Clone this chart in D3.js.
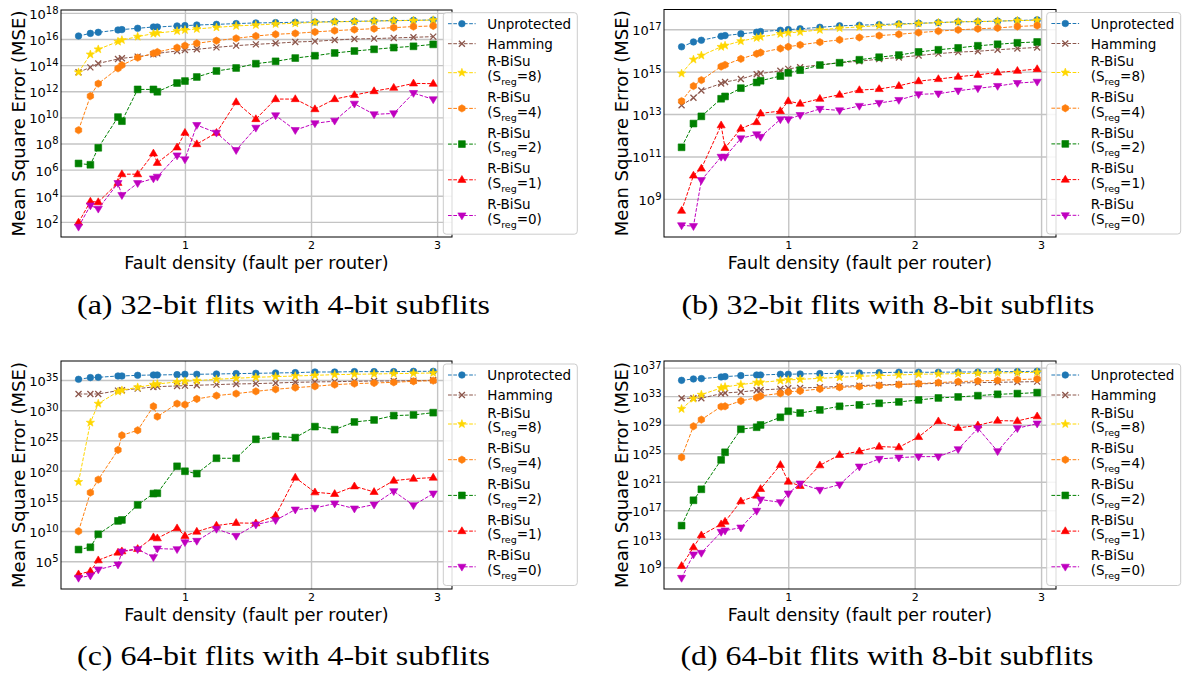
<!DOCTYPE html>
<html><head><meta charset="utf-8">
<script src="https://cdn.jsdelivr.net/npm/d3@7"></script>
<style>body{margin:0;background:#fff}svg{display:block}</style>
</head><body>
<svg id="chart" width="1182" height="677"></svg>
<script>
// Fault density (fault per router) — x values of every series
const faultDensity = [0.156,0.25,0.3125,0.469,0.5,0.625,0.75,0.781,0.9375,1.0,1.094,1.25,1.406,1.5625,1.719,1.875,2.031,2.1875,2.344,2.5,2.656,2.8125,2.969];
const xTickValues = [1,2,3];

const seriesNames = ["Unprotected","Hamming","R-BiSu|8","R-BiSu|4","R-BiSu|2","R-BiSu|1","R-BiSu|0"];
const seriesColors = ["#1f77b4","#8c564b","#ffd700","#ff7f0e","#008000","#ff0000","#bf00bf"];
const seriesMarkers = ["circle","x","star","hexagon","square","triUp","triDown"];

// MSE values given as log10(MSE)
// (a) 32-bit flits with 4-bit subflits
const aUnprotected = [16.23,16.43,16.51,16.69,16.72,16.82,16.92,16.92,17.00,17.02,17.07,17.12,17.18,17.23,17.25,17.28,17.30,17.33,17.35,17.38,17.41,17.43,17.46];
const aHamming     = [13.45,13.83,14.13,14.47,14.52,14.65,14.82,14.90,15.08,15.16,15.21,15.36,15.49,15.59,15.67,15.77,15.82,15.92,16.00,16.03,16.08,16.13,16.18];
const aSreg8       = [13.45,14.82,15.21,15.80,15.92,16.18,16.41,16.46,16.61,16.69,16.77,16.89,17.00,17.07,17.15,17.20,17.28,17.31,17.34,17.37,17.40,17.42,17.45];
const aSreg4       = [9.02,11.63,12.58,13.75,14.00,14.57,14.90,15.00,15.34,15.49,15.67,15.87,16.05,16.23,16.36,16.43,16.54,16.64,16.72,16.79,16.87,16.95,17.00];
const aSreg2       = [6.47,6.37,7.67,10.02,9.71,12.14,12.14,11.96,12.63,12.78,13.09,13.55,13.78,14.11,14.29,14.54,14.72,14.93,15.08,15.21,15.34,15.44,15.59];
const aSreg1       = [1.95,3.56,3.51,4.99,5.65,5.65,7.24,6.52,7.70,8.82,7.95,8.82,11.17,9.87,11.40,11.40,10.63,11.40,11.71,12.01,12.27,12.60,12.58];
const aSreg0       = [1.62,3.25,3.00,4.96,4.04,4.96,5.32,5.45,7.08,6.78,9.41,8.82,7.49,9.20,10.15,9.02,9.54,9.74,11.04,10.23,10.30,11.86,11.38];
// (b) 32-bit flits with 8-bit subflits
const bUnprotected = [16.17,16.40,16.48,16.67,16.70,16.78,16.86,16.89,16.95,16.98,17.02,17.09,17.16,17.19,17.22,17.25,17.28,17.31,17.35,17.36,17.38,17.41,17.44];
const bHamming     = [13.41,13.77,14.11,14.44,14.51,14.65,14.88,14.91,15.04,15.13,15.21,15.32,15.42,15.49,15.59,15.67,15.76,15.85,15.92,15.96,16.03,16.09,16.14];
const bSreg8       = [14.91,15.57,15.76,16.17,16.23,16.44,16.59,16.64,16.78,16.83,16.87,16.97,17.05,17.11,17.17,17.22,17.27,17.31,17.35,17.36,17.38,17.41,17.42];
const bSreg4       = [13.61,14.32,14.60,15.24,15.32,15.60,15.84,15.90,16.09,16.17,16.26,16.39,16.50,16.61,16.70,16.76,16.84,16.91,16.97,17.02,17.06,17.13,17.17];
const bSreg2       = [11.43,12.55,12.89,13.72,13.83,14.22,14.49,14.57,14.79,14.94,15.07,15.31,15.42,15.56,15.68,15.78,15.93,16.03,16.12,16.22,16.29,16.36,16.40];
const bSreg1       = [8.44,10.10,10.43,12.47,11.40,12.31,12.62,13.03,13.14,13.61,13.49,13.72,13.91,14.13,14.18,14.33,14.55,14.65,14.76,14.85,14.96,15.04,15.12];
const bSreg0       = [7.75,7.71,9.88,10.98,10.98,11.85,12.04,11.92,12.75,12.75,12.95,13.24,13.17,13.38,13.52,13.66,13.93,13.96,14.10,14.21,14.32,14.46,14.52];
// (c) 64-bit flits with 4-bit subflits
const cUnprotected = [35.11,35.39,35.44,35.66,35.66,35.77,35.83,35.83,35.88,35.94,35.94,35.99,36.05,36.10,36.16,36.21,36.32,36.32,36.38,36.38,36.38,36.43,36.43];
const cHamming     = [32.68,32.68,32.68,33.23,33.29,33.57,33.84,33.90,34.01,34.06,34.12,34.23,34.34,34.39,34.50,34.61,34.67,34.72,34.78,34.83,34.83,34.89,34.94];
const cSreg8       = [18.12,27.94,31.08,33.07,33.29,33.79,34.23,34.34,34.67,34.78,34.89,35.11,35.28,35.44,35.55,35.66,35.77,35.88,35.94,35.99,36.05,36.10,36.16];
const cSreg4       = [9.96,16.36,18.51,23.42,25.84,26.67,30.64,28.93,31.08,30.92,31.86,32.41,32.74,33.12,33.46,33.73,33.95,34.23,34.39,34.50,34.61,34.78,34.89];
const cSreg2       = [6.93,7.31,9.46,11.67,11.83,14.32,16.19,16.25,20.71,19.89,19.50,22.04,22.04,25.18,25.68,25.46,27.28,26.78,28.05,28.38,29.10,29.21,29.59];
const cSreg1       = [2.84,3.34,5.16,6.43,6.65,7.04,8.97,8.80,10.46,9.19,9.90,10.90,11.34,11.28,12.55,18.84,16.41,16.14,17.40,16.47,18.34,18.67,18.84];
const cSreg0       = [2.24,2.62,3.62,4.44,6.59,6.98,5.66,7.09,6.98,8.14,8.36,10.34,9.19,11.06,11.78,13.54,13.82,14.54,13.71,14.37,16.58,14.26,16.19];
// (d) 64-bit flits with 8-bit subflits
const dUnprotected = [35.22,35.41,35.46,35.69,35.74,35.88,35.97,35.97,36.07,36.07,36.11,36.16,36.21,36.25,36.30,36.35,36.35,36.35,36.39,36.39,36.44,36.44,36.49];
const dHamming     = [32.70,32.70,32.70,33.36,33.45,33.59,33.82,33.87,34.01,34.10,34.15,34.24,34.38,34.48,34.57,34.66,34.71,34.80,34.85,34.90,34.94,34.99,35.04];
const dSreg8       = [31.21,32.65,33.21,34.15,34.29,34.62,34.90,34.94,35.18,35.27,35.36,35.50,35.64,35.79,35.88,35.97,36.07,36.11,36.16,36.21,36.25,36.30,36.35];
const dSreg4       = [24.43,28.78,29.71,31.53,31.58,32.33,32.79,33.03,33.40,33.59,33.73,34.01,34.24,34.34,34.48,34.62,34.76,34.90,35.04,35.13,35.22,35.32,35.41];
const dSreg2       = [14.85,18.40,19.94,24.06,25.13,28.36,28.64,28.96,30.04,30.88,30.64,31.07,31.58,31.77,32.00,32.19,32.47,32.75,32.89,33.07,33.26,33.36,33.50];
const dSreg1       = [9.20,11.81,13.50,15.04,15.41,18.26,19.06,19.99,23.36,21.02,20.41,23.31,24.76,25.27,25.93,25.83,27.28,29.48,28.54,28.92,29.57,29.52,30.18];
const dSreg0       = [7.51,10.79,11.02,13.96,14.15,14.57,16.91,18.50,18.12,19.34,20.74,19.85,20.60,23.12,24.20,24.38,24.52,24.52,25.55,28.50,25.27,28.50,29.15];

// y tick exponents
const aTicks = [2,4,6,8,10,12,14,16,18];
const bTicks = [9,11,13,15,17];
const cTicks = [5,10,15,20,25,30,35];
const dTicks = [9,13,17,21,25,29,33,37];

const captions = ["(a) 32-bit flits with 4-bit subflits","(b) 32-bit flits with 8-bit subflits",
                  "(c) 64-bit flits with 4-bit subflits","(d) 64-bit flits with 8-bit subflits"];

const panels = [
  {x0:61,  x1:452,  y0:10,  y1:237, ylog:[0.84,18.22], ticks:aTicks, series:[aUnprotected,aHamming,aSreg8,aSreg4,aSreg2,aSreg1,aSreg0], cap:captions[0], capX:283.5, capY:314, lx:443.3, ly:12.7},
  {x0:664, x1:1056, y0:9.5, y1:237, ylog:[7.20,17.93], ticks:bTicks, series:[bUnprotected,bHamming,bSreg8,bSreg4,bSreg2,bSreg1,bSreg0], cap:captions[1], capX:888,   capY:314, lx:1046.7, ly:12.5},
  {x0:61,  x1:452,  y0:361, y1:589, ylog:[0.40,38.14], ticks:cTicks, series:[cUnprotected,cHamming,cSreg8,cSreg4,cSreg2,cSreg1,cSreg0], cap:captions[2], capX:283.5, capY:665, lx:443.3, ly:364},
  {x0:664, x1:1056, y0:361, y1:589, ylog:[5.96,37.93], ticks:dTicks, series:[dUnprotected,dHamming,dSreg8,dSreg4,dSreg2,dSreg1,dSreg0], cap:captions[3], capX:887,   capY:665, lx:1046.7, ly:364}
];

const svg = d3.select("#chart");
const FONT = "DejaVu Sans, sans-serif";

function markerPath(type){
  switch(type){
    case "circle": { const r=3.3; return `M${r},0A${r},${r},0,1,1,${-r},0A${r},${r},0,1,1,${r},0Z`; }
    case "square": { const h=3.4; return `M${-h},${-h}H${h}V${h}H${-h}Z`; }
    case "triUp":  { const r=4.3; return `M0,${-r}L${r*0.95},${r*0.6}L${-r*0.95},${r*0.6}Z`; }
    case "triDown":{ const r=4.3; return `M0,${r}L${r*0.95},${-r*0.6}L${-r*0.95},${-r*0.6}Z`; }
    case "hexagon":{ const r=3.7; let p=""; for(let k=0;k<6;k++){const a=Math.PI/2+k*Math.PI/3; p+=(k?"L":"M")+(r*Math.cos(a)).toFixed(2)+","+(r*Math.sin(a)).toFixed(2);} return p+"Z"; }
    case "star":   { const R=4.4, r=1.8; let p=""; for(let k=0;k<10;k++){const a=-Math.PI/2+k*Math.PI/5; const rr=k%2?r:R; p+=(k?"L":"M")+(rr*Math.cos(a)).toFixed(2)+","+(rr*Math.sin(a)).toFixed(2);} return p+"Z"; }
    case "x":      { const h=3; return `M${-h},${-h}L${h},${h}M${-h},${h}L${h},${-h}`; }
  }
}
function drawMarker(g,type,cx,cy,color){
  const p = g.append("path").attr("d",markerPath(type)).attr("transform",`translate(${cx},${cy})`);
  if(type==="x") p.attr("fill","none").attr("stroke",color).attr("stroke-width",1.3);
  else p.attr("fill",color).attr("stroke",color).attr("stroke-width",0.6);
}

panels.forEach(p=>{
  const g = svg.append("g");
  const x = d3.scaleLinear().domain([0.017,3.118]).range([p.x0,p.x1]);
  const y = d3.scaleLog().domain([10**p.ylog[0],10**p.ylog[1]]).range([p.y1,p.y0]);
  const W = p.x1-p.x0, H = p.y1-p.y0;

  // grid
  g.append("g").attr("transform",`translate(0,${p.y1})`)
    .call(d3.axisBottom(x).tickValues(xTickValues).tickSize(-H).tickFormat(""))
    .call(s=>{s.select(".domain").remove(); s.selectAll("line").attr("stroke","#c4c4c4").attr("stroke-width",1.4);});
  g.append("g").attr("transform",`translate(${p.x0},0)`)
    .call(d3.axisLeft(y).tickValues(p.ticks.map(e=>10**e)).tickSize(-W).tickFormat(""))
    .call(s=>{s.select(".domain").remove(); s.selectAll("line").attr("stroke","#c4c4c4").attr("stroke-width",1.4);});

  // series
  const line = d3.line().x(d=>x(d[0])).y(d=>y(10**d[1]));
  p.series.forEach((vals,i)=>{
    const pts = faultDensity.map((xv,j)=>[xv,vals[j]]);
    g.append("path").attr("d",line(pts)).attr("fill","none").attr("stroke",seriesColors[i])
      .attr("stroke-width",1).attr("stroke-dasharray","3.7,1.6");
    pts.forEach(d=>drawMarker(g,seriesMarkers[i],x(d[0]),y(10**d[1]),seriesColors[i]));
  });

  // frame
  g.append("rect").attr("x",p.x0).attr("y",p.y0).attr("width",W).attr("height",H)
    .attr("fill","none").attr("stroke","#000").attr("stroke-width",1);

  // x tick labels
  g.append("g").attr("transform",`translate(0,${p.y1})`)
    .call(d3.axisBottom(x).tickValues(xTickValues).tickSize(0).tickPadding(4.5).tickFormat(d3.format("d")))
    .call(s=>{s.select(".domain").remove(); s.attr("font-family",FONT).attr("font-size",11);
      s.selectAll("text").attr("fill","#000");});

  // y tick labels (10^n)
  g.append("g").attr("transform",`translate(${p.x0},0)`)
    .call(d3.axisLeft(y).tickValues(p.ticks.map(e=>10**e)).tickSize(0).tickPadding(2.5).tickFormat(()=>""))
    .call(s=>{s.select(".domain").remove(); s.attr("font-family",FONT).attr("font-size",13);
      s.selectAll(".tick text").each(function(d){
        const t = d3.select(this).attr("fill","#000").attr("dy","0.42em");
        t.append("tspan").text("10");
        t.append("tspan").attr("font-size",10).attr("dy","-0.5em").text(String(Math.round(Math.log10(d))));
      });});

  // axis titles
  g.append("text").attr("x",(p.x0+p.x1)/2).attr("y",p.y1+32).attr("text-anchor","middle")
    .attr("font-family",FONT).attr("font-size",17.5).text("Fault density (fault per router)");
  g.append("text").attr("transform",`translate(${p.x0-36},${(p.y0+p.y1)/2}) rotate(-90)`).attr("text-anchor","middle")
    .attr("font-family",FONT).attr("font-size",18).text("Mean Square Error (MSE)");

  // legend
  const L = g.append("g").attr("transform",`translate(${p.lx},${p.ly})`);
  L.append("rect").attr("width",134).attr("height",221.5).attr("rx",3)
    .attr("fill","#fff").attr("fill-opacity",0.85).attr("stroke","#cccccc").attr("stroke-width",1);
  seriesNames.forEach((name,i)=>{
    let cy, lines;
    if(i<2){ cy = 11 + 20*i; lines = [[name, cy]]; }
    else { const k=i-2; cy = 60+35.7*k; lines = [["R-BiSu",48.6+35.7*k],["sub",63.3+35.7*k]]; }
    L.append("line").attr("x1",4.7).attr("x2",32.4).attr("y1",cy).attr("y2",cy)
      .attr("stroke",seriesColors[i]).attr("stroke-width",1).attr("stroke-dasharray","3.7,1.6");
    drawMarker(L,seriesMarkers[i],18.6,cy,seriesColors[i]);
    lines.forEach(([txt,ly])=>{
      const t = L.append("text").attr("x",44).attr("y",ly+5).attr("font-family",FONT).attr("font-size",13.5).attr("fill","#000");
      if(txt==="sub"){
        const v = name.split("|")[1];
        t.append("tspan").text("(S");
        t.append("tspan").attr("font-size",9.5).attr("dy",4).text("reg");
        t.append("tspan").attr("dy",-4).text("="+v+")");
      } else t.text(txt);
    });
  });

  // caption
  svg.append("text").attr("x",p.capX).attr("y",p.capY).attr("text-anchor","middle")
    .attr("font-family","Liberation Serif, serif").attr("font-size",27.5)
    .attr("textLength",413).attr("lengthAdjust","spacingAndGlyphs").attr("fill","#000").text(p.cap);
});
</script>
</body></html>
